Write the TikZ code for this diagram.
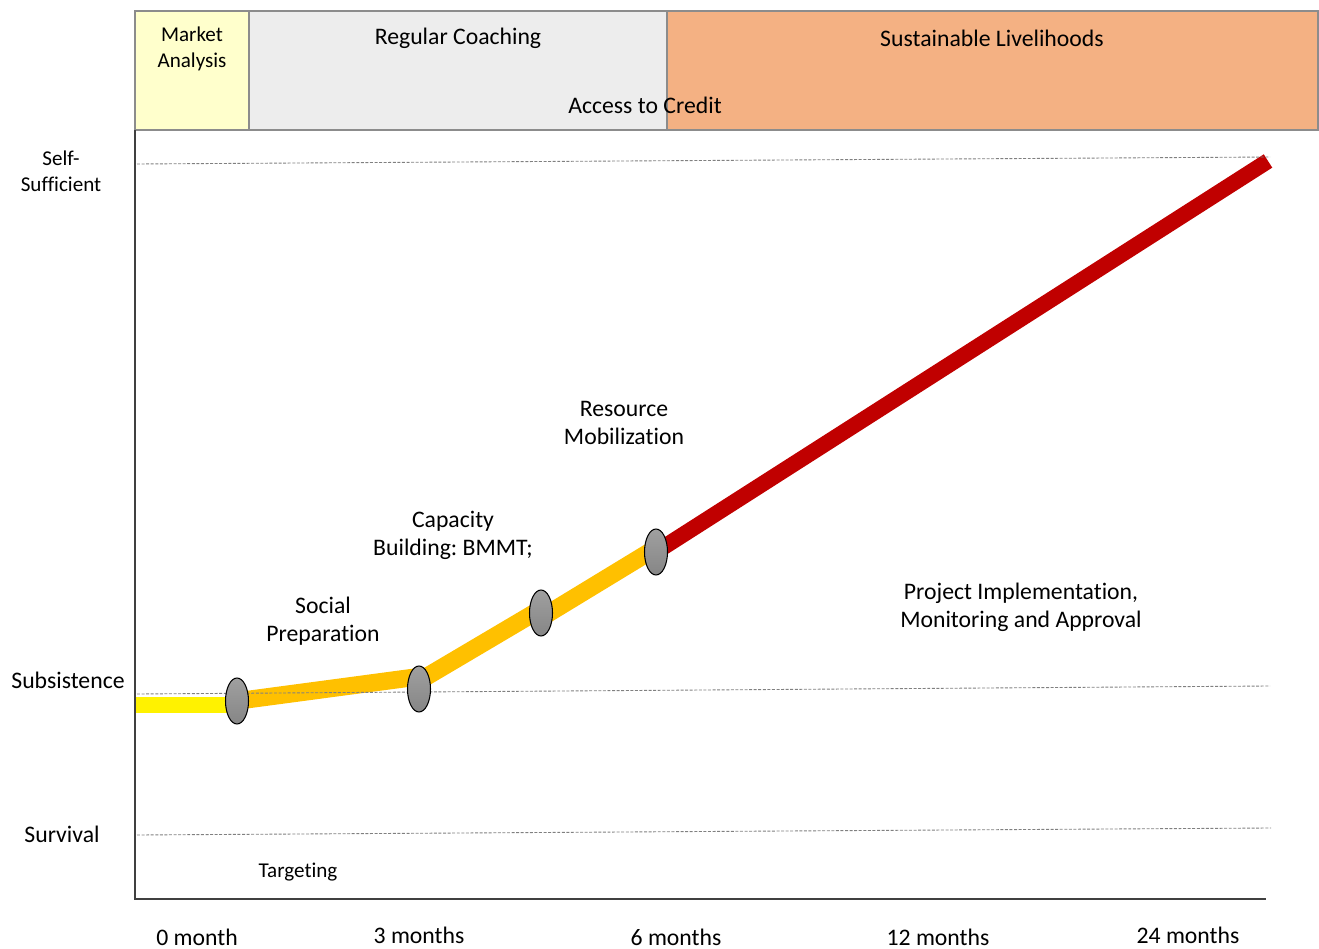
\documentclass[tikz,border=0pt]{standalone}
\usepackage{fontspec}
\setmainfont[Ligatures=NoCommon]{Carlito}
\usepackage{tikz}
\usetikzlibrary{positioning}
\usetikzlibrary{shapes.geometric}
\usetikzlibrary{backgrounds}
\definecolor{lemon}{HTML}{FFFFCC}
\definecolor{mist}{HTML}{EDEDED}
\definecolor{peach}{HTML}{F4B183}
\definecolor{edgegray}{HTML}{8C8C8C}
\definecolor{axisgray}{HTML}{404040}
\definecolor{amber}{HTML}{FFC000}
\definecolor{crimson}{HTML}{C00000}
\frenchspacing

\begin{document}
\begin{tikzpicture}
[
x=0.02cm, y=-0.02cm,
cell/.style={rectangle, draw=edgegray, line width=1.5pt, inner sep=0pt, minimum height=2.38cm},
stage/.style={ellipse, draw=black, line width=0.6pt, top color=gray!75, bottom color=gray!105!black, inner sep=0pt, minimum width=0.46cm, minimum height=0.92cm},
text-l/.style={black, font=\fontsize{13.5}{16}\selectfont, align=center},
text-s/.style={black, font=\fontsize{12}{14.6}\selectfont, align=center},
level/.style={gray, line width=0.5pt, dash pattern=on 1.7pt off 0.9pt},
axis/.style={axisgray, line width=1.1pt},
path-y/.style={yellow, line width=9.5pt},
path-o/.style={amber, line width=10pt},
path-r/.style={crimson, line width=9pt},
]
\useasboundingbox (0,0) rectangle (1319,949);

% phases on top
\node (ma)  [cell, fill=lemon, minimum width=2.28cm]  at (192,70.5)   {};
\node (rc)  [cell, fill=mist, minimum width=8.36cm]   at (458,70.5)   {};
\node (sl)  [cell, fill=peach, minimum width=13.02cm] at (992.5,70.5) {};
\node (mal) [text-s] at (192,49)  {Market\\Analysis};
\node (rcl) [text-l] at (458,38)  {Regular Coaching};
\node (acl) [text-l] at (645,105) {Access to Credit};
\node (sll) [text-l] at (992,38)  {Sustainable Livelihoods};

% levels
\node (ssl) [text-s] at (61,171)  {Self-\\Sufficient};
\node (sbl) [text-l] at (68,680)  {Subsistence};
\node (svl) [text-l] at (62,834)  {Survival};
\draw [level] (137,164) -- (1270,157);
\draw [level] (137,694) -- (1270,686);
\draw [level] (137,835) -- (1271,828);
\draw [axis]  (135,130) -- (135,899) -- (1266,899);

% months
\node (t0)  [text-l] at (197,937)  {0 month};
\node (t3)  [text-l] at (419,935)  {3 months};
\node (t6)  [text-l] at (676,937)  {6 months};
\node (t12) [text-l] at (938,937)  {12 months};
\node (t24) [text-l] at (1188,935) {24 months};

% milestones
\coordinate (start) at (135,705);
\coordinate (peak)  at (1268,161);
\node (m1) [stage] at (237,701) {};
\node (m2) [stage] at (419,689) {};
\node (m3) [stage] at (541,613) {};
\node (m4) [stage] at (656,552) {};
\begin{scope}[on background layer]
\draw [path-y] (start) -- (start -| m1);
\draw [path-o] (m1.center) -- ([yshift=7pt]m2.center);
\draw [path-o] ([yshift=4.5pt]m2.center) -- ([yshift=2.3pt]m3.center);
\draw [path-o] ([yshift=-2.8pt]m3.center) -- ([yshift=2.3pt]m4.center);
\draw [path-r] (m4.center) -- (peak);
\end{scope}

% stage labels
\node (tgl) [text-s] at (298,872)  {Targeting};
\node (spl) [text-l] at (323,621)  {Social\\Preparation};
\node (cbl) [text-l] at (453,535)  {Capacity\\Building: BMMT;};
\node (rml) [text-l] at (624,423)  {Resource\\Mobilization};
\node (pil) [text-l] at (1021,607) {Project Implementation,\\Monitoring and Approval};
\end{tikzpicture}
\end{document}
